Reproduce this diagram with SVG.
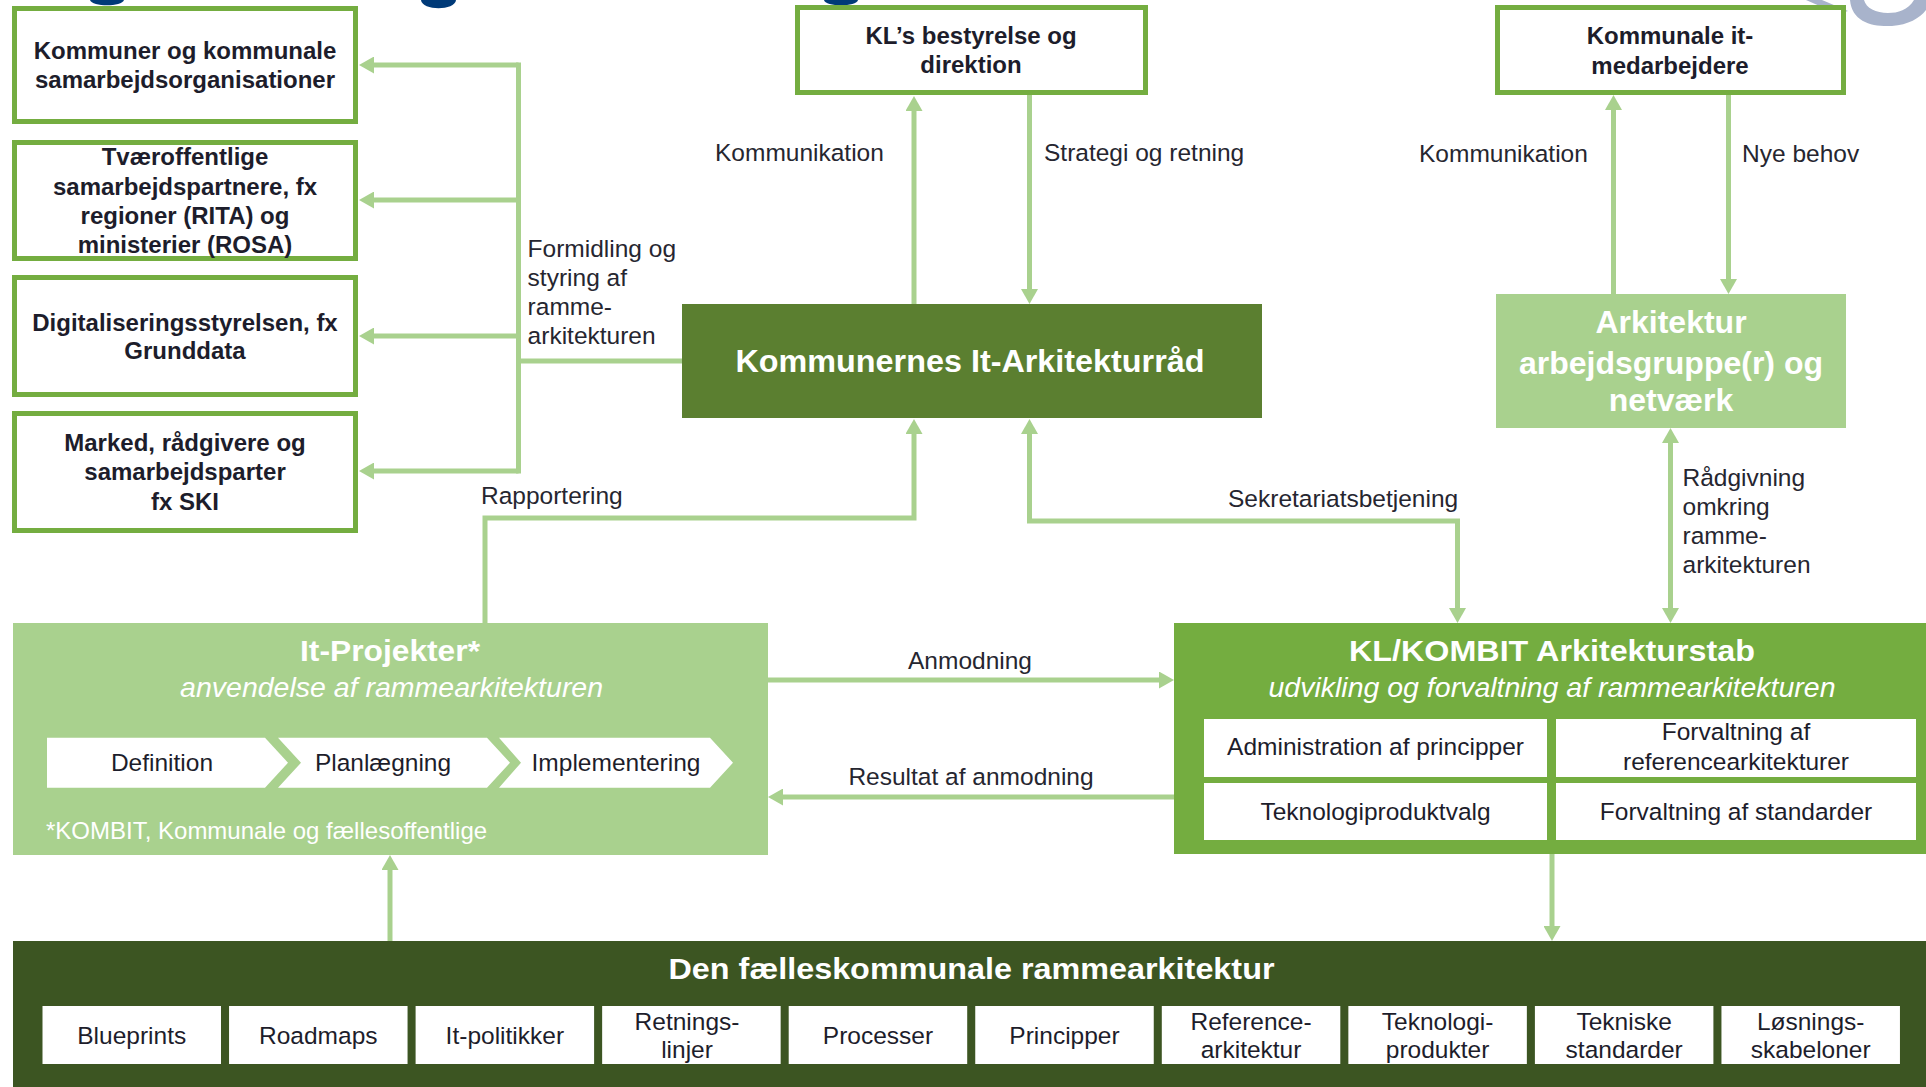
<svg xmlns="http://www.w3.org/2000/svg" width="1926" height="1087" viewBox="0 0 1926 1087">
<style>
  .lbl { font-family: "Liberation Sans", Arial, sans-serif; font-size: 24.5px; fill: #262630; }
  .bx { font-family: "Liberation Sans", Arial, sans-serif; font-weight: bold; font-size: 24px; fill: #1d1d2b; text-anchor: middle; }
  .cell { font-family: "Liberation Sans", Arial, sans-serif; font-size: 24.5px; fill: #1d1d2b; text-anchor: middle; }
  .wt { font-family: "Liberation Sans", Arial, sans-serif; fill: #ffffff; text-anchor: middle; }
  .obox { fill: #ffffff; stroke: #74AD40; stroke-width: 5; }
  .conn { fill: none; stroke: #A9D18E; stroke-width: 5; }
  .arr { marker-end: url(#ah); }
  .arr2 { marker-start: url(#ah); marker-end: url(#ah); }
</style>
<defs>
  <marker id="ah" viewBox="0 0 15 17" refX="9" refY="8.5" markerWidth="15" markerHeight="17" markerUnits="userSpaceOnUse" orient="auto-start-reverse">
    <path d="M0,0 L15,8.5 L0,17 z" fill="#A9D18E"/>
  </marker>
</defs>
<rect width="1926" height="1087" fill="#ffffff"/>

<!-- cropped title fragments at top edge -->
<g id="top-fragments">
  <path d="M90,0 L124,0 C122,7 92,7 90,0 Z" fill="#003A78"/>
  <path d="M421,0 L456,0 C455,11 422,11 421,0 Z" fill="#003A78"/>
  <path d="M824,0 L858,0 C857,7 825,7 824,0 Z" fill="#003A78"/>
  <path d="M1806,0 L1822,0 L1848,11 L1838,14 Z" fill="#A8B3CB"/>
  <path d="M1850,0 C1852,22 1872,27 1892,26 C1908,25 1920,18 1926,10 L1926,0 L1914,0 C1908,10 1898,13 1888,13 C1876,13 1866,8 1864,0 Z" fill="#A8B3CB"/>
</g>

<!-- connectors -->
<g id="connectors">
  <path class="conn" d="M518.5,62.5 V473.5"/>
  <path class="conn arr" d="M518.5,65 H365"/>
  <path class="conn arr" d="M518.5,200 H365"/>
  <path class="conn arr" d="M518.5,336 H365"/>
  <path class="conn arr" d="M518.5,471 H365"/>
  <path class="conn" d="M516,361 H684"/>
  <path class="conn arr" d="M914,304 V102"/>
  <path class="conn arr" d="M1029.5,95 V298"/>
  <path class="conn arr" d="M485,623 V518 H914 V425"/>
  <path class="conn arr2" d="M1029.5,425 V521 H1457.5 V617"/>
  <path class="conn arr" d="M1613.5,294 V101"/>
  <path class="conn arr" d="M1728.5,95 V288"/>
  <path class="conn arr2" d="M1670.5,434 V617"/>
  <path class="conn arr" d="M768,680 H1168"/>
  <path class="conn arr" d="M1174,797 H774"/>
  <path class="conn arr" d="M1552,854 V935"/>
  <path class="conn arr" d="M390,941 V861"/>
</g>

<!-- connector labels -->
<g id="labels">
  <text class="lbl" x="527.6" y="256.6">Formidling og</text>
  <text class="lbl" x="527.6" y="285.9">styring af</text>
  <text class="lbl" x="527.6" y="315">ramme-</text>
  <text class="lbl" x="527.6" y="344.4">arkitekturen</text>
  <text class="lbl" x="715" y="161">Kommunikation</text>
  <text class="lbl" x="1044" y="161">Strategi og retning</text>
  <text class="lbl" x="1419" y="162">Kommunikation</text>
  <text class="lbl" x="1742" y="162">Nye behov</text>
  <text class="lbl" x="481" y="503.5">Rapportering</text>
  <text class="lbl" x="1228" y="507">Sekretariatsbetjening</text>
  <text class="lbl" x="1682.5" y="486">Rådgivning</text>
  <text class="lbl" x="1682.5" y="515">omkring</text>
  <text class="lbl" x="1682.5" y="544">ramme-</text>
  <text class="lbl" x="1682.5" y="573">arkitekturen</text>
  <text class="lbl" x="970" y="669" text-anchor="middle">Anmodning</text>
  <text class="lbl" x="971" y="785" text-anchor="middle">Resultat af anmodning</text>
</g>

<!-- left boxes -->
<g id="node-kommuner">
  <rect class="obox" x="14.5" y="8.5" width="341" height="113"/>
  <text class="bx" x="185" y="59">Kommuner og kommunale</text>
  <text class="bx" x="185" y="88">samarbejdsorganisationer</text>
</g>
<g id="node-tvaeroffentlige">
  <rect class="obox" x="14.5" y="142.5" width="341" height="116"/>
  <text class="bx" x="185" y="164.6">Tværoffentlige</text>
  <text class="bx" x="185" y="194.6">samarbejdspartnere, fx</text>
  <text class="bx" x="185" y="224">regioner (RITA) og</text>
  <text class="bx" x="185" y="253">ministerier (ROSA)</text>
</g>
<g id="node-digst">
  <rect class="obox" x="14.5" y="277.5" width="341" height="117"/>
  <text class="bx" x="185" y="330.6">Digitaliseringsstyrelsen, fx</text>
  <text class="bx" x="185" y="359">Grunddata</text>
</g>
<g id="node-marked">
  <rect class="obox" x="14.5" y="413.5" width="341" height="117"/>
  <text class="bx" x="185" y="451">Marked, rådgivere og</text>
  <text class="bx" x="185" y="480.4">samarbejdsparter</text>
  <text class="bx" x="185" y="509.7">fx SKI</text>
</g>

<!-- top boxes -->
<g id="node-kl-bestyrelse">
  <rect class="obox" x="797.5" y="7.5" width="348" height="85"/>
  <text class="bx" x="971" y="43.7">KL’s bestyrelse og</text>
  <text class="bx" x="971" y="73">direktion</text>
</g>
<g id="node-kommunale-it">
  <rect class="obox" x="1497.5" y="7.5" width="346" height="85"/>
  <text class="bx" x="1670" y="43.5">Kommunale it-</text>
  <text class="bx" x="1670" y="74">medarbejdere</text>
</g>

<!-- main council -->
<g id="node-arkitekturraad">
  <rect x="682" y="304" width="580" height="114" fill="#5B7F30"/>
  <text class="wt" x="970" y="372" font-size="31" font-weight="bold" textLength="469" lengthAdjust="spacingAndGlyphs">Kommunernes It-Arkitekturråd</text>
</g>

<g id="node-arbejdsgruppe">
  <rect x="1496" y="294" width="350" height="134" fill="#A9D18E"/>
  <text class="wt" x="1671" y="333" font-size="32" font-weight="bold">Arkitektur</text>
  <text class="wt" x="1671" y="373.6" font-size="32" font-weight="bold">arbejdsgruppe(r) og</text>
  <text class="wt" x="1671" y="411" font-size="32" font-weight="bold">netværk</text>
</g>

<!-- It-Projekter -->
<g id="node-it-projekter">
  <rect x="13" y="623" width="755" height="232" fill="#A9D18E"/>
  <text class="wt" x="390" y="661" font-size="30" font-weight="bold" textLength="180" lengthAdjust="spacingAndGlyphs">It-Projekter*</text>
  <text class="wt" x="391.6" y="697" font-size="28.5" font-style="italic">anvendelse af rammearkitekturen</text>
  <path d="M47,737.7 L265,737.7 L288,762.7 L265,787.7 L47,787.7 Z" fill="#ffffff"/>
  <path d="M278,737.7 L487,737.7 L510,762.7 L487,787.7 L278,787.7 L301,762.7 Z" fill="#ffffff"/>
  <path d="M499,737.7 L710,737.7 L733,762.7 L710,787.7 L499,787.7 L521,762.7 Z" fill="#ffffff"/>
  <text class="cell" x="162" y="771">Definition</text>
  <text class="cell" x="383" y="771">Planlægning</text>
  <text class="cell" x="616" y="771">Implementering</text>
  <text x="46" y="839" font-family="Liberation Sans, Arial, sans-serif" font-size="24" fill="#ffffff">*KOMBIT, Kommunale og fællesoffentlige</text>
</g>

<!-- KL/KOMBIT -->
<g id="node-arkitekturstab">
  <rect x="1174" y="623" width="752" height="231" fill="#74AD40"/>
  <text class="wt" x="1552" y="661" font-size="30" font-weight="bold" textLength="406" lengthAdjust="spacingAndGlyphs">KL/KOMBIT Arkitekturstab</text>
  <text class="wt" x="1552" y="697" font-size="28.5" font-style="italic">udvikling og forvaltning af rammearkitekturen</text>
  <rect x="1204" y="719" width="343" height="58" fill="#ffffff"/>
  <rect x="1556" y="719" width="360" height="58" fill="#ffffff"/>
  <rect x="1204" y="783" width="343" height="57" fill="#ffffff"/>
  <rect x="1556" y="783" width="360" height="57" fill="#ffffff"/>
  <text class="cell" x="1375.5" y="755">Administration af principper</text>
  <text class="cell" x="1736" y="740">Forvaltning af</text>
  <text class="cell" x="1736" y="770">referencearkitekturer</text>
  <text class="cell" x="1375.5" y="820">Teknologiproduktvalg</text>
  <text class="cell" x="1736" y="820">Forvaltning af standarder</text>
</g>

<!-- Bottom frame architecture -->
<g id="node-rammearkitektur">
  <rect x="13" y="941" width="1913" height="146" fill="#3C5522"/>
  <text class="wt" x="971.5" y="979" font-size="29" font-weight="bold" textLength="606" lengthAdjust="spacingAndGlyphs">Den fælleskommunale rammearkitektur</text>
  <g fill="#ffffff">
    <rect x="42.5" y="1006" width="178.5" height="58"/>
    <rect x="229.05" y="1006" width="178.5" height="58"/>
    <rect x="415.6" y="1006" width="178.5" height="58"/>
    <rect x="602.15" y="1006" width="178.5" height="58"/>
    <rect x="788.7" y="1006" width="178.5" height="58"/>
    <rect x="975.25" y="1006" width="178.5" height="58"/>
    <rect x="1161.8" y="1006" width="178.5" height="58"/>
    <rect x="1348.35" y="1006" width="178.5" height="58"/>
    <rect x="1534.9" y="1006" width="178.5" height="58"/>
    <rect x="1721.45" y="1006" width="178.5" height="58"/>
  </g>
  <text class="cell" x="131.75" y="1044">Blueprints</text>
  <text class="cell" x="318.3" y="1044">Roadmaps</text>
  <text class="cell" x="504.85" y="1044">It-politikker</text>
  <text class="cell" x="687" y="1030">Retnings-</text>
  <text class="cell" x="687" y="1058">linjer</text>
  <text class="cell" x="877.95" y="1044">Processer</text>
  <text class="cell" x="1064.5" y="1044">Principper</text>
  <text class="cell" x="1251.05" y="1030">Reference-</text>
  <text class="cell" x="1251.05" y="1058">arkitektur</text>
  <text class="cell" x="1437.6" y="1030">Teknologi-</text>
  <text class="cell" x="1437.6" y="1058">produkter</text>
  <text class="cell" x="1624.15" y="1030">Tekniske</text>
  <text class="cell" x="1624.15" y="1058">standarder</text>
  <text class="cell" x="1810.7" y="1030">Løsnings-</text>
  <text class="cell" x="1810.7" y="1058">skabeloner</text>
</g>
</svg>
